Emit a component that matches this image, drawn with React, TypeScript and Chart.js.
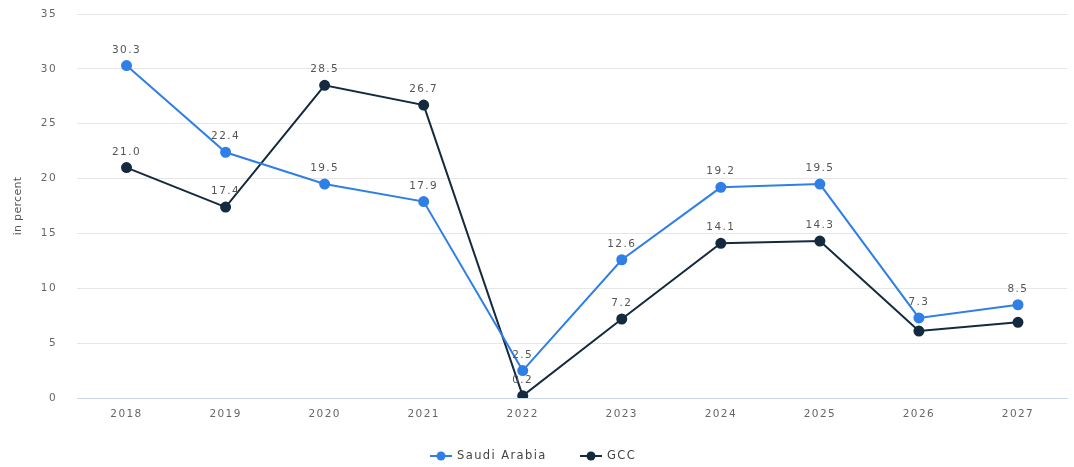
import React, { useEffect, useRef } from "react";
import { Chart, registerables } from "chart.js";

Chart.register(...registerables);

const years = ["2018", "2019", "2020", "2021", "2022", "2023", "2024", "2025", "2026", "2027"];
const saudiArabia = [30.3, 22.4, 19.5, 17.9, 2.5, 12.6, 19.2, 19.5, 7.3, 8.5];
const gcc = [21.0, 17.4, 28.5, 26.7, 0.2, 7.2, 14.1, 14.3, 6.1, 6.9];
const gccShowLabel = [true, true, true, true, true, true, true, true, false, false];
const saudiShowLabel = [true, true, true, true, true, true, true, true, true, true];
const yTitle = "in percent";

const BLUE = "#2f7fe6";
const NAVY = "#142a3e";
const FONT = "'DejaVu Sans', sans-serif";
const SPACING = "1.4px";

const spacingPlugin = {
  id: "spacing",
  beforeUpdate(chart: any) {
    chart.ctx.letterSpacing = SPACING;
  },
  beforeDraw(chart: any) {
    chart.ctx.letterSpacing = SPACING;
  },
};

const valueLabels = {
  id: "valueLabels",
  afterDatasetsDraw(chart: any) {
    const ctx = chart.ctx;
    ctx.save();
    ctx.letterSpacing = SPACING;
    ctx.font = `10.5px ${FONT}`;
    ctx.fillStyle = "#555";
    ctx.textAlign = "center";
    ctx.textBaseline = "alphabetic";
    chart.data.datasets.forEach((ds: any, di: number) => {
      const meta = chart.getDatasetMeta(di);
      const show = di === 0 ? saudiShowLabel : gccShowLabel;
      meta.data.forEach((pt: any, i: number) => {
        if (!show[i]) return;
        ctx.fillText(ds.data[i].toFixed(1), pt.x, pt.y - 13);
      });
    });
    ctx.restore();
  },
};

const customLegend = {
  id: "customLegend",
  afterDraw(chart: any) {
    const ctx = chart.ctx;
    ctx.save();
    ctx.letterSpacing = SPACING;
    ctx.font = `11.5px ${FONT}`;
    ctx.textBaseline = "middle";
    ctx.textAlign = "left";
    const y = 456;
    const items = [
      { x: 430, text: chart.data.datasets[0].label, color: BLUE },
      { x: 580, text: chart.data.datasets[1].label, color: NAVY },
    ];
    items.forEach((it) => {
      ctx.strokeStyle = it.color;
      ctx.lineWidth = 2;
      ctx.beginPath();
      ctx.moveTo(it.x, y);
      ctx.lineTo(it.x + 22, y);
      ctx.stroke();
      ctx.fillStyle = it.color;
      ctx.beginPath();
      ctx.arc(it.x + 11, y, 4.5, 0, Math.PI * 2);
      ctx.fill();
      ctx.fillStyle = "#444";
      ctx.fillText(it.text, it.x + 27, y);
    });
    ctx.letterSpacing = "0.3px";
    ctx.font = `11px ${FONT}`;
    ctx.fillStyle = "#555";
    ctx.translate(18, 206);
    ctx.rotate(-Math.PI / 2);
    ctx.textAlign = "center";
    ctx.fillText(yTitle, 0, 0);
    ctx.restore();
  },
};

export default function App() {
  const ref = useRef<HTMLCanvasElement>(null);
  useEffect(() => {
    const chart = new Chart(ref.current!, {
      type: "line",
      data: {
        labels: years,
        datasets: [
          {
            label: "Saudi Arabia",
            data: saudiArabia,
            borderColor: BLUE,
            backgroundColor: BLUE,
            borderWidth: 2,
            pointRadius: 4.5,
            pointHoverRadius: 4.5,
            tension: 0,
          },
          {
            label: "GCC",
            data: gcc,
            borderColor: NAVY,
            backgroundColor: NAVY,
            borderWidth: 2,
            pointRadius: 4.5,
            pointHoverRadius: 4.5,
            tension: 0,
          },
        ],
      },
      options: {
        animation: false,
        responsive: false,
        maintainAspectRatio: false,
        layout: { padding: { top: 14, right: 3, left: 0, bottom: 0 } },
        plugins: {
          tooltip: { enabled: false },
          legend: { display: false },
        },
        scales: {
          x: {
            offset: true,
            grid: { display: false, drawTicks: false },
            border: { color: "#ccd6eb", width: 1 },
            ticks: { color: "#666", font: { family: FONT, size: 10.5 }, padding: 10, maxRotation: 0 },
            afterFit: (s: any) => {
              s.height = 69;
              s.paddingLeft = 0;
              s.paddingRight = 0;
            },
          },
          y: {
            min: 0,
            max: 35,
            ticks: { stepSize: 5, color: "#666", font: { family: FONT, size: 10.5 }, padding: 20 },
            grid: { color: "#e6e6e6", drawTicks: false },
            border: { display: false },
            afterFit: (s: any) => {
              s.width = 77;
              s.paddingTop = 0;
              s.paddingBottom = 0;
            },
          },
        },
      },
      plugins: [spacingPlugin, valueLabels, customLegend],
    });
    return () => chart.destroy();
  }, []);
  return (
    <div style={{ position: "absolute", left: 0, top: 0, width: 1074, height: 467, background: "#fff" }}>
      <canvas ref={ref} width={1074} height={467} />
    </div>
  );
}
